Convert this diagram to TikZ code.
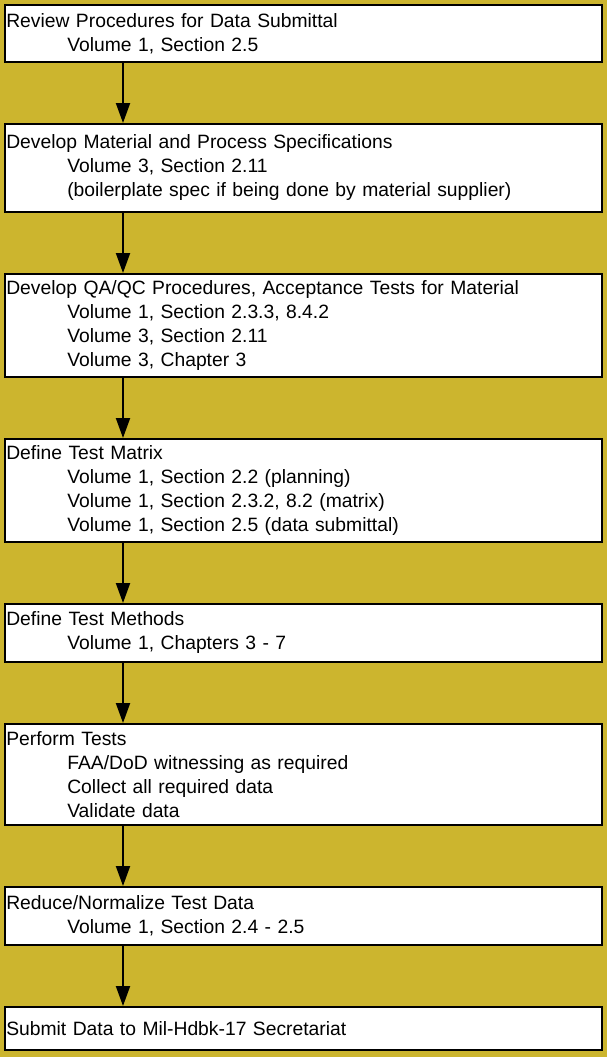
\documentclass[tikz,border=0pt]{standalone}
\usepackage{fontspec}
\setmainfont{Liberation Sans}
\usetikzlibrary{positioning,arrows.meta}
\definecolor{bgolive}{RGB}{204,181,46}
\newcommand\ind{\\\hspace*{61pt}}

\begin{document}
\begin{tikzpicture}[line width=2pt,node distance=60pt,
  font=\fontsize{19.3}{24}\selectfont,
  box/.style={draw,fill=white,inner xsep=1.3pt,inner ysep=0pt,text width=594.4pt,align=left}]
\fill[bgolive](0,0)rectangle(607pt,-1057pt);
\node[box,minimum height=57pt,anchor=north west](b1)at(4pt,-4pt)
 {Review Procedures for Data Submittal\ind Volume 1, Section 2.5};
\node[box,minimum height=88pt,below=of b1](b2)
 {Develop Material and Process Specifications\ind Volume 3, Section 2.11
 \ind (boilerplate spec if being done by material supplier)};
\node[box,minimum height=103pt,below=of b2](b3)
 {Develop QA/QC Procedures, Acceptance Tests for Material\ind Volume 1, Section 2.3.3, 8.4.2
 \ind Volume 3, Section 2.11\ind Volume 3, Chapter 3};
\node[box,minimum height=103pt,below=of b3](b4)
 {Define Test Matrix\ind Volume 1, Section 2.2 (planning)\ind Volume 1, Section 2.3.2, 8.2 (matrix)
 \ind Volume 1, Section 2.5 (data submittal)};
\node[box,minimum height=58pt,below=of b4](b5)
 {Define Test Methods\ind Volume 1, Chapters 3 - 7};
\node[box,minimum height=101pt,below=of b5](b6)
 {Perform Tests\ind FAA/DoD witnessing as required\ind Collect all required data\ind Validate data};
\node[box,minimum height=58pt,below=of b6](b7)
 {Reduce/Normalize Test Data\ind Volume 1, Section 2.4 - 2.5};
\node[box,minimum height=43pt,below=of b7](b8)
 {Submit Data to Mil-Hdbk-17 Secretariat};
\coordinate(ax)at(123pt,0);
\foreach \a/\b in {b1/b2,b2/b3,b3/b4,b4/b5,b5/b6,b6/b7,b7/b8}
 \draw[-{Triangle[length=20pt,width=14pt]}](\a.south-|ax)--(\b.north-|ax);
\end{tikzpicture}
\end{document}
